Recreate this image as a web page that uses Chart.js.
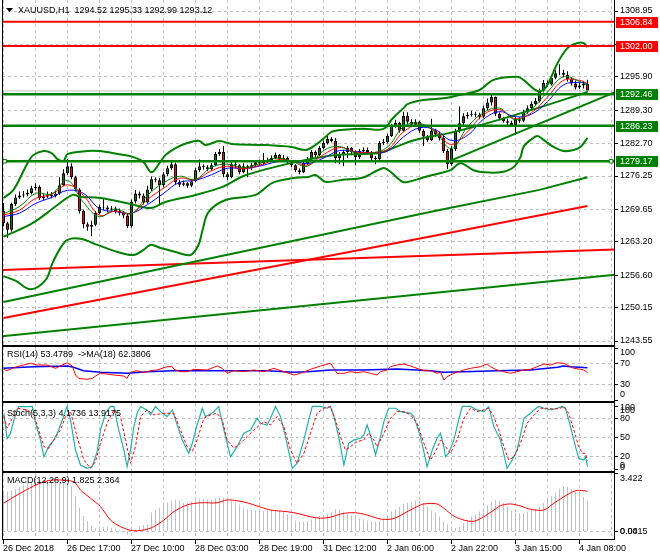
<!DOCTYPE html>
<html><head><meta charset="utf-8">
<script src="https://cdn.jsdelivr.net/npm/chart.js@4/dist/chart.umd.min.js"></script>
<style>
html,body{margin:0;padding:0;background:#fff;}
#wrap{position:relative;width:660px;height:560px;overflow:hidden;background:#fff;}
canvas{position:absolute;left:0;top:0;}
</style></head><body>
<div id="wrap">
<canvas id="cMain" width="660" height="560"></canvas>
<canvas id="cRsi" width="660" height="560"></canvas>
<canvas id="cSto" width="660" height="560"></canvas>
<canvas id="cMacd" width="660" height="560"></canvas>
</div>
<script>
// ================= DATA =================
const symbolTitle = 'XAUUSD,H1  1294.52 1295.33 1292.99 1293.12';
const rsiTitle = 'RSI(14) 53.4789  ->MA(18) 62.3806';
const stochTitle = 'Stoch(5,3,3) 4.1736 13.9175';
const macdTitle = 'MACD(12,26,9) 1.825 2.364';

const timeLabels = ['26 Dec 2018','26 Dec 17:00','27 Dec 10:00','28 Dec 03:00','28 Dec 19:00','31 Dec 12:00','2 Jan 06:00','2 Jan 22:00','3 Jan 15:00','4 Jan 08:00'];
const timeLabelBars = [0,16,32,48,64,80,96,112,128,144];
const priceTicks = [1308.95,1302.35,1295.90,1289.30,1282.70,1276.25,1269.65,1263.20,1256.60,1250.15,1243.55];

const opens = [1269.3,1266.9,1265.6,1270.7,1272.0,1272.4,1272.6,1272.9,1273.8,1274.1,
1271.9,1272.2,1272.6,1272.3,1272.8,1274.4,1276.8,1278.2,1276.0,1273.6,
1269.3,1266.7,1266.2,1266.6,1268.9,1270.1,1270.0,1269.6,1269.8,1269.3,
1269.0,1268.4,1266.3,1271.2,1272.8,1272.4,1271.0,1273.6,1275.6,1275.4,
1274.4,1276.6,1277.8,1278.6,1275.0,1274.5,1274.8,1274.3,1275.2,1277.4,
1278.2,1278.0,1277.6,1278.4,1280.6,1281.0,1276.6,1276.0,1278.6,1278.4,
1277.0,1278.2,1277.8,1278.4,1279.0,1278.8,1279.2,1279.4,1279.8,1280.4,
1279.6,1279.8,1279.0,1278.4,1277.4,1277.0,1278.8,1279.6,1281.0,1280.4,
1281.8,1282.8,1283.6,1283.2,1279.8,1280.5,1281.0,1281.8,1281.0,1280.0,
1281.2,1281.4,1281.0,1279.8,1279.6,1282.8,1283.0,1284.2,1286.2,1286.8,
1285.2,1288.2,1287.0,1286.4,1287.0,1285.2,1284.1,1283.4,1285.2,1284.5,
1283.8,1281.2,1278.6,1281.6,1285.1,1286.7,1288.1,1288.4,1288.6,1288.4,
1288.0,1289.7,1290.8,1291.9,1288.6,1287.7,1287.1,1286.8,1286.3,1287.5,
1287.2,1289.0,1289.7,1290.5,1291.1,1293.1,1294.7,1294.4,1295.7,1296.6,
1296.7,1296.3,1295.4,1294.6,1293.8,1294.2,1294.52];
const highs = [1270.9,1267.2,1271.0,1272.6,1273.2,1273.3,1273.6,1274.3,1274.8,1274.4,
1272.8,1273.2,1273.1,1273.4,1276.0,1277.6,1279.6,1278.8,1276.3,1273.8,
1269.6,1267.1,1267.4,1269.3,1270.6,1271.9,1270.4,1270.3,1270.2,1269.8,
1269.3,1268.8,1271.6,1273.5,1273.2,1272.8,1274.3,1276.2,1276.0,1275.9,
1277.0,1278.3,1279.3,1278.9,1275.5,1275.3,1275.0,1275.6,1277.9,1279.5,
1278.6,1278.4,1278.9,1281.0,1281.6,1282.2,1277.0,1279.0,1279.2,1278.6,
1278.8,1278.5,1278.9,1279.4,1279.5,1280.8,1279.9,1280.3,1280.9,1280.6,
1280.4,1280.1,1279.3,1278.6,1277.8,1279.2,1280.0,1281.4,1281.3,1282.2,
1283.3,1284.2,1284.0,1283.8,1281.0,1281.4,1282.2,1282.0,1281.3,1281.6,
1281.9,1281.9,1281.2,1280.2,1283.2,1283.6,1284.6,1286.6,1287.4,1287.0,
1289.0,1288.9,1287.5,1287.5,1287.2,1285.5,1284.4,1287.6,1285.6,1285.0,
1284.2,1281.6,1282.2,1285.6,1290.0,1288.7,1288.9,1289.2,1289.0,1288.8,
1290.2,1291.6,1292.4,1292.0,1288.9,1288.0,1287.6,1287.2,1287.9,1287.9,
1289.4,1290.2,1291.0,1291.7,1293.6,1295.3,1295.2,1296.2,1297.2,1298.4,
1297.3,1297.0,1295.8,1295.2,1294.8,1295.1,1295.33];
const lows = [1266.3,1264.0,1265.2,1270.3,1271.7,1272.0,1272.2,1272.6,1273.4,1271.5,
1271.4,1271.9,1271.8,1272.0,1272.5,1274.2,1276.5,1275.6,1273.2,1268.8,
1265.9,1265.4,1264.3,1266.3,1268.6,1269.5,1269.0,1269.2,1268.8,1268.4,
1267.9,1265.9,1266.0,1270.8,1271.8,1270.6,1270.8,1273.3,1275.0,1270.4,
1274.0,1276.2,1277.5,1274.6,1274.0,1274.2,1273.9,1274.0,1275.0,1277.1,
1277.5,1277.2,1277.3,1278.2,1280.2,1276.0,1275.4,1275.8,1277.8,1276.6,
1276.8,1276.0,1277.4,1278.1,1278.3,1278.5,1278.9,1279.1,1279.6,1279.2,
1279.3,1278.6,1278.0,1277.0,1276.6,1276.8,1278.5,1279.4,1280.0,1280.2,
1281.5,1282.5,1282.9,1278.8,1278.6,1278.2,1279.8,1280.6,1278.4,1279.6,
1280.9,1280.6,1279.4,1278.6,1279.3,1282.4,1282.7,1284.0,1285.8,1284.8,
1285.0,1286.6,1286.0,1286.0,1284.8,1282.2,1283.0,1283.2,1284.0,1283.3,
1280.8,1277.6,1278.3,1281.2,1284.8,1286.2,1287.6,1288.0,1287.9,1287.5,
1287.7,1289.3,1290.2,1288.1,1287.3,1286.8,1286.3,1286.0,1284.5,1286.8,
1286.9,1288.6,1289.4,1290.2,1290.8,1292.8,1293.9,1294.2,1295.4,1296.2,
1295.8,1295.0,1294.2,1293.4,1293.5,1293.6,1292.99];
const closes = [1266.9,1265.6,1270.7,1272.0,1272.4,1272.6,1272.9,1273.8,1274.1,1271.9,
1272.2,1272.6,1272.3,1272.8,1274.4,1276.8,1278.2,1276.0,1273.6,1269.3,
1266.7,1266.2,1266.6,1268.9,1270.1,1270.0,1269.6,1269.8,1269.3,1269.0,
1268.4,1266.3,1271.2,1272.8,1272.4,1271.0,1273.6,1275.6,1275.4,1274.4,
1276.6,1277.8,1278.6,1275.0,1274.5,1274.8,1274.3,1275.2,1277.4,1278.2,
1278.0,1277.6,1278.4,1280.6,1281.0,1276.6,1276.0,1278.6,1278.4,1277.0,
1278.2,1277.8,1278.4,1279.0,1278.8,1279.2,1279.4,1279.8,1280.4,1279.6,
1279.8,1279.0,1278.4,1277.4,1277.0,1278.8,1279.6,1281.0,1280.4,1281.8,
1282.8,1283.6,1283.2,1279.8,1280.5,1281.0,1281.8,1281.0,1280.0,1281.2,
1281.4,1281.0,1279.8,1279.6,1282.8,1283.0,1284.2,1286.2,1286.8,1285.2,
1288.2,1287.0,1286.4,1287.0,1285.2,1284.1,1283.4,1285.2,1284.5,1283.8,
1281.2,1278.6,1281.6,1285.1,1286.7,1288.1,1288.4,1288.6,1288.4,1288.0,
1289.7,1290.8,1291.9,1288.6,1287.7,1287.1,1286.8,1286.3,1287.5,1287.2,
1289.0,1289.7,1290.5,1291.1,1293.1,1294.7,1294.4,1295.7,1296.6,1296.7,
1296.3,1295.4,1294.6,1293.8,1294.2,1294.52,1293.12];

// Bollinger bands (bar index, price)
const bbUpper = [[0,1271.9],[2.5,1273.5],[6,1278.8],[7.5,1280.4],[10,1281.2],[12,1280.8],[13.5,1279.6],[15,1279.2],[16,1280.6],[21,1281.2],[24,1281.2],[28.5,1280.6],[32.5,1280.0],[35,1279.0],[37,1277.0],[39,1278.8],[40.5,1280.4],[43,1281.8],[46,1282.8],[49,1283.2],[50.5,1282.4],[54,1283.2],[57,1282.6],[65,1282.4],[72,1282.0],[75.5,1281.4],[78,1282.4],[80.5,1284.0],[82,1285.0],[85,1285.4],[90,1285.6],[94,1285.4],[95.5,1285.8],[97,1287.4],[100,1289.7],[101,1290.5],[105,1291.3],[110.5,1291.7],[114,1292.3],[119,1293.3],[122.5,1295.3],[128.5,1295.9],[130,1295.3],[133.5,1293.1],[135.5,1293.7],[138.5,1298.6],[141,1301.6],[143.5,1302.6],[145,1302.6],[146,1301.8]];
const bbMiddle = [[0,1264.2],[7.25,1266.9],[13.5,1270.5],[17.25,1272.5],[19.25,1272.1],[24.25,1271.9],[31.75,1270.7],[36.75,1269.9],[40.5,1271.1],[48,1272.5],[54.75,1274.1],[60.5,1276.4],[73,1279.0],[83,1280.4],[93.75,1280.8],[98,1282.0],[102,1283.2],[106,1284.0],[110.5,1284.6],[116.75,1285.8],[126,1287.9],[134.25,1289.9],[146,1292.9]];
const bbLower = [[0,1256.4],[3,1255.5],[6.75,1253.8],[10.5,1255.6],[12.25,1259.0],[14.25,1262.0],[16,1263.6],[19.25,1263.8],[23.5,1262.6],[28.5,1261.2],[32.5,1260.6],[35,1261.6],[36.75,1262.6],[39.25,1262.0],[43,1261.2],[46.75,1260.6],[48.75,1262.6],[49.75,1265.5],[51.25,1269.1],[55.5,1271.5],[63,1272.5],[67.25,1274.9],[73,1275.9],[76.25,1276.05],[78,1276.45],[80.5,1275.1],[84.75,1275.5],[89.75,1275.9],[94.75,1277.8],[96.25,1277.4],[99.75,1275.1],[101.25,1275.1],[104.75,1275.9],[109.25,1276.85],[111.75,1277.4],[114.25,1278.8],[117.5,1277.4],[120,1277.0],[124.25,1277.0],[127.5,1278.0],[129.25,1280.0],[130,1282.0],[131.75,1283.4],[133.5,1284.2],[135,1283.4],[137.5,1282.0],[140,1281.2],[142.5,1281.4],[144.25,1282.0],[146,1283.8]];

// fast moving averages (thin lines)
const maGreen = [[0,1268.8],[4,1270.2],[8,1272.8],[12,1272.7],[16,1275.4],[20,1271.0],[24,1268.2],[28,1269.7],[32,1268.8],[36,1272.4],[40,1274.9],[44,1276.2],[48,1275.6],[52,1278.0],[56,1278.6],[60,1277.9],[64,1278.7],[68,1279.8],[72,1279.2],[76,1278.2],[80,1281.3],[84,1282.1],[88,1280.8],[92,1280.8],[96,1282.0],[100,1286.0],[104,1286.7],[108,1284.9],[112,1281.7],[116,1286.0],[120,1288.8],[124,1289.7],[128,1287.4],[132,1289.5],[136,1292.9],[140,1295.9],[144,1295.0],[146,1294.2]];
const maRed = [[0,1268.5],[4,1269.5],[8,1271.8],[12,1272.6],[16,1274.5],[20,1272.4],[24,1268.5],[28,1269.3],[32,1268.8],[36,1271.6],[40,1273.8],[44,1275.8],[48,1275.5],[52,1277.3],[56,1278.2],[60,1277.7],[64,1278.4],[68,1279.4],[72,1279.3],[76,1278.4],[80,1280.5],[84,1281.9],[88,1281.0],[92,1280.9],[96,1281.5],[100,1285.0],[104,1286.4],[108,1285.1],[112,1282.5],[116,1285.0],[120,1288.4],[124,1289.4],[128,1287.6],[132,1288.8],[136,1291.9],[140,1295.2],[144,1295.2],[146,1294.6]];
const maBlue = [[0,1268.2],[4,1268.9],[8,1270.8],[12,1272.0],[16,1273.4],[20,1272.8],[24,1269.8],[28,1269.2],[32,1268.9],[36,1270.6],[40,1272.8],[44,1275.0],[48,1275.4],[52,1276.5],[56,1277.8],[60,1277.7],[64,1278.2],[68,1279.0],[72,1279.3],[76,1278.7],[80,1279.8],[84,1281.3],[88,1281.1],[92,1280.9],[96,1281.2],[100,1284.0],[104,1285.8],[108,1285.4],[112,1283.3],[116,1284.3],[120,1287.5],[124,1289.0],[128,1288.0],[132,1288.5],[136,1291.0],[140,1294.3],[144,1294.8],[146,1294.5]];

// long moving averages / lines
const longGreen1 = [[0,1251.3],[109,1269.5],[134,1273.5],[146,1276.0]];
const longRed1 = [[0,1248.1],[109,1264.6],[146,1270.3]];
const longRed2 = [[-0.375,1257.6],[152.875,1261.7]];
const longGreen2 = [[-0.375,1244.5],[152.875,1256.7]];
const trendLine = [[110.9,1279.0],[152.875,1292.85]];
const levelsRed = [1306.84,1302.00];
const levelsGreen = [1292.46,1286.23,1279.17];
const bidPrice = 1293.12;

// RSI(14) and its MA(18)
const rsiLine = [[0,59.5],[0.9,57],[2.2,61.4],[3.4,64.6],[5.1,67.8],[6.75,71],[8.4,67.8],[10.9,67.8],[13,61.4],[14.25,65.9],[15.9,72.1],[17.2,65.9],[18,48.8],[18.8,42.5],[20.9,40.6],[22.2,42.5],[23.4,48.8],[24.25,52],[25.9,50.7],[27.6,48.8],[30.1,46.9],[30.9,42.5],[31.3,48.8],[32.2,55.1],[33.4,57],[35.1,53.2],[36.75,57],[38.4,58.3],[40.9,64.6],[42.2,64.6],[42.6,59.6],[44.25,55.1],[45.9,55.1],[47.6,59.6],[50.9,58.3],[53.4,65.9],[54.7,61.4],[55.9,52],[57.6,57],[60.1,55.1],[62.6,58.3],[65.1,55.1],[67.6,61.4],[70.1,55.1],[72.6,48.8],[74.25,52],[76.75,59.6],[79.25,65.9],[81.75,71],[82.6,61.4],[83.4,52],[85.1,52],[86.75,55.1],[88.4,53.2],[90.1,55.1],[91.75,52],[93.4,48.8],[94.25,55.1],[95.9,58.3],[96.75,64.6],[98.4,67.8],[100.1,69.7],[101.75,65.9],[103.4,61.4],[105.1,57],[106.75,57],[108.4,52],[109.25,55.1],[110.1,39.3],[110.9,45.6],[112.6,52],[115.1,58.3],[116.75,61.4],[119.25,64.6],[120.9,69.7],[121.75,64.6],[123.4,58.3],[125.1,55.1],[126.75,52],[128.4,55.1],[130.1,58.3],[131.75,59.6],[133.4,64.6],[135.1,69.7],[136.75,67.8],[138.4,72.1],[140.1,71],[140.9,67.8],[142.6,61.4],[144.25,59.6],[145.1,58.3],[146,53.5]];
const rsiMa = [[0,61.4],[7.5,64.6],[16,65.9],[17.5,63.4],[20,57],[24.25,53.9],[31,52],[36,55.1],[42.5,57],[49.25,57],[57.5,57],[66,57],[72.5,53.9],[76,55.1],[81.75,58.3],[90,58.3],[98.5,60.2],[106.75,57],[110,53.9],[115,55.1],[123.5,57],[131.75,58.3],[138.5,63.4],[140,65.9],[141.75,64.6],[146,62.4]];

// Stochastic %K and %D
const stochK = [[0.1,89],[0.9,49],[1.75,57],[2.6,78.5],[3.8,99.7],[5.9,99.7],[7.2,100],[8,73],[9.25,46.7],[10.1,20],[11.3,36],[12.6,46.7],[13.8,62.6],[14.7,78.5],[15.9,100],[16.75,78.5],[18,30.7],[19.25,6.8],[20.9,1.6],[22.2,4.1],[23.4,28],[24.25,62.6],[25.5,89],[26.75,100],[27.6,100],[28.8,62.6],[30.1,30.7],[30.9,4.1],[31.75,30.7],[32.6,67.8],[33.4,89],[34.25,99.7],[35.9,94.4],[36.75,86.5],[38,99.7],[39.25,91.7],[40.9,83.8],[42.2,94.4],[43,78.5],[44.7,46.7],[46.3,25.5],[47.2,41.4],[48.4,70.5],[49.7,97.1],[50.5,83.8],[51.3,86.5],[52.6,91.7],[53.8,100],[55.1,62.6],[56.75,20],[58.4,36],[60.1,57.3],[61.75,62.6],[63.4,81.2],[64.25,73.2],[65.9,70.5],[66.75,81.2],[68,100],[69.25,83.8],[70.5,51.9],[72.2,1.6],[73.4,9.6],[75.1,46.7],[76.3,78.5],[77.2,100],[79.25,100],[80.9,97.1],[81.75,100],[82.6,83.8],[83.8,51.9],[85.1,6.8],[86.3,41.4],[87.6,46.7],[89.25,49.4],[90.1,54.6],[90.9,70.5],[91.75,54.6],[93,22.8],[94.25,51.9],[95.1,75.8],[96.3,97.1],[98,97.1],[99.25,91.7],[101.75,89],[102.6,83.8],[104.25,51.9],[105.9,4.1],[107.2,30.7],[108.4,49.4],[109.25,57.3],[110.1,36],[110.5,20],[111.3,25.5],[112.6,46.7],[113.8,78.5],[114.7,100],[116.75,100],[118.4,94.4],[120.1,91.7],[121.3,99.7],[122.6,67.8],[124.25,46.7],[125.9,1.6],[127.2,14.8],[128.4,30.7],[129.7,67.8],[130.1,81.2],[131.75,89],[132.6,94.4],[133.8,100],[135.1,97.1],[136.75,94.4],[138.4,97.1],[139.7,100],[140.5,97.1],[141.75,67.8],[143,36],[143.8,17.5],[145.1,14.8],[145.5,20],[146,4.2]];
const stochD = [[0.1,83.8],[0.9,65.3],[2.2,81.2],[3.4,97.1],[5.9,94.4],[7.6,86.5],[8.8,62.6],[10.1,36],[11.3,33.4],[12.6,46.7],[14.25,62.6],[15.5,83.8],[16.75,91.7],[18.4,51.9],[20.1,14.8],[21.75,1.6],[23,12.1],[24.25,41.4],[25.9,73.2],[27.6,94.4],[29.25,83.8],[30.5,46.7],[31.75,9.6],[33,36],[34.25,83.8],[35.9,94.4],[37.6,86.5],[40.1,89],[42.6,89],[44.25,62.6],[45.9,36],[47.2,28],[48.4,46.7],[50.1,81.2],[51.75,86.5],[53.4,89],[54.7,78.5],[55.9,46.7],[57.6,33.4],[59.25,41.4],[60.9,51.9],[62.6,62.6],[65.1,75.8],[66.75,70.5],[68.4,83.8],[70.1,67.8],[71.75,30.7],[73.4,9.6],[75.1,25.5],[76.75,57.3],[78.4,89],[80.1,97.1],[81.75,99.7],[83,78.5],[84.25,51.9],[85.5,30.7],[86.75,36],[88.4,44],[90.1,46.7],[91.3,57.3],[92.6,46.7],[93.4,36],[95.1,57.3],[96.75,81.2],[98.4,91.7],[100.1,91.7],[101.75,86.5],[103.4,73.2],[105.1,41.4],[106.75,14.8],[108,28],[109.25,46.7],[110.5,36],[111.75,25.5],[113.4,46.7],[115.1,81.2],[116.75,97.1],[118.4,91.7],[120.1,94.4],[121.3,97.1],[122.6,83.8],[123.8,62.6],[125.1,36],[126.3,14.8],[127.6,20],[129.25,41.4],[130.9,73.2],[132.6,86.5],[134.25,97.1],[135.9,97.1],[137.6,95.6],[139.25,97.1],[140.1,99.7],[141.3,89],[142.6,62.6],[143.8,36],[144.7,25.5],[145.5,25.5],[146,13.9]];

// MACD histogram (one value per bar) and signal line
const macdHist = [2.24,2.34,2.40,2.50,2.60,2.72,2.84,2.90,2.95,3.02,
3.04,3.04,2.92,2.84,2.84,2.82,2.78,2.66,2.10,1.40,
0.90,0.58,0.32,0.16,0.24,0.26,0.26,0.18,0.14,0.08,
-0.10,-0.24,0.00,0.10,0.32,0.36,0.40,1.10,1.28,1.38,
1.55,1.70,1.82,1.88,1.83,1.66,1.70,1.76,1.86,1.89,
1.89,1.87,1.86,1.95,2.05,2.00,1.89,1.78,1.66,1.57,
1.42,1.29,1.26,1.24,1.22,1.21,1.22,1.24,1.23,1.19,
1.15,1.00,0.82,0.62,0.55,0.55,0.60,0.68,0.80,0.90,
0.95,1.01,1.10,1.30,1.27,1.15,1.04,0.92,0.82,0.74,
0.70,0.62,0.55,0.55,0.58,0.65,0.95,1.18,1.30,1.45,
1.61,1.68,1.75,1.82,1.80,1.66,1.45,1.22,1.10,0.85,
0.55,0.38,0.24,0.18,0.25,0.45,0.68,0.88,1.00,1.16,
1.35,1.55,1.75,1.84,1.80,1.66,1.45,1.22,1.08,1.05,
1.05,1.15,1.26,1.32,1.45,1.65,1.85,2.08,2.30,2.52,
2.68,2.62,2.50,2.38,2.20,2.04,1.83];
const macdSignal = [[0,1.65],[3.4,2.14],[7.6,2.68],[10.1,2.93],[12.6,3.04],[17.6,2.93],[19.25,2.44],[21.75,1.95],[24.25,1.45],[26.75,0.65],[29.25,0.26],[32.2,0.02],[35.1,0.06],[37.6,0.26],[40.1,0.65],[42.6,1.15],[45.9,1.55],[49.25,1.68],[53.4,1.68],[55.9,1.85],[58.4,1.8],[60.9,1.68],[63.4,1.49],[66.75,1.25],[70.9,1.15],[73.4,1.05],[76.75,0.85],[79.25,0.76],[81.75,0.82],[84.25,1.01],[86.75,1.09],[89.25,1.05],[91.75,0.89],[94.25,0.71],[96.75,0.7],[98.4,0.82],[100.9,1.15],[103.4,1.45],[105.1,1.61],[108.4,1.61],[110.1,1.35],[112.6,0.89],[115.1,0.65],[117.6,0.58],[120.1,0.85],[122.6,1.25],[124.25,1.51],[126.75,1.61],[129.25,1.49],[131.75,1.29],[135.1,1.25],[137.6,1.65],[140.1,2.04],[143,2.4],[145.1,2.4],[146,2.36]];

// ================= RENDERING =================
const X_MIN = -0.375, X_MAX = 152.875;
const GREEN = '#008000', RED = '#ff0000', BLUE = '#0000ff', TEAL = '#20b2aa', GRID = '#c0c0c0';
const FONT = '9px "Liberation Sans", Arial, sans-serif';
const pts = a => a.map(([x, y]) => ({x, y}));
const hl = v => [{x: X_MIN, y: v}, {x: X_MAX, y: v}];
function lineDS(data, color, width, order, extra) {
  return Object.assign({type: 'line', data, borderColor: color, borderWidth: width, pointRadius: 0, fill: false, tension: 0, order}, extra || {});
}

const panels = {
  cMain: {hGrid: priceTicks, labels: priceTicks.map(v => ({v, t: v.toFixed(2), dy: 0})), title: symbolTitle, tx: 18, ty: 10.5, tri: true,
          boxes: levelsRed.map(v => ({v, c: RED})).concat(levelsGreen.map(v => ({v, c: GREEN})))},
  cRsi: {hGrid: [70, 30], labels: [{v: 100, t: '100', dy: 5}, {v: 70, t: '70', dy: 0}, {v: 30, t: '30', dy: 0}, {v: 0, t: '0', dy: -6}], title: rsiTitle, tx: 7, ty: 355},
  cSto: {hGrid: [80, 50, 20], labels: [{v: 100, t: '100', dy: 1}, {v: 100, t: '100', dy: 4}, {v: 80, t: '80', dy: 0}, {v: 50, t: '50', dy: 0}, {v: 20, t: '20', dy: 0}, {v: 0, t: '0', dy: -3.5}, {v: 0, t: '0', dy: -2}], title: stochTitle, tx: 7, ty: 413.5},
  cMacd: {hGrid: [0], labels: [{v: 3.422, t: '3.422', dy: 4.8}, {v: 0, t: '0.00', dy: 0.5}, {v: 0, t: '0.0415', dy: 0.5}], title: macdTitle, tx: 7, ty: 480.5, last: true}
};

const decor = {
  id: 'decor',
  beforeDatasetsDraw(chart) {
    const p = panels[chart.canvas.id];
    const {ctx, chartArea: a} = chart, xs = chart.scales.x, ys = chart.scales.y;
    ctx.save();
    ctx.beginPath(); ctx.rect(a.left, a.top, a.right - a.left, a.bottom - a.top); ctx.clip();
    ctx.strokeStyle = GRID; ctx.lineWidth = 1; ctx.setLineDash([3, 3]);
    ctx.beginPath();
    for (let i = 0; i <= X_MAX; i += 8) { const px = xs.getPixelForValue(i); ctx.moveTo(px, a.top); ctx.lineTo(px, a.bottom); }
    p.hGrid.forEach(v => { const py = Math.floor(ys.getPixelForValue(v)) + 0.5; ctx.moveTo(a.left, py); ctx.lineTo(a.right, py); });
    ctx.stroke();
    ctx.restore();
  },
  afterDraw(chart) {
    const p = panels[chart.canvas.id];
    const {ctx} = chart, xs = chart.scales.x, ys = chart.scales.y;
    ctx.save();
    ctx.font = FONT; ctx.textBaseline = 'middle'; ctx.textAlign = 'left';
    ctx.fillStyle = '#000';
    if (p.tri) { ctx.beginPath(); ctx.moveTo(6, 8); ctx.lineTo(13, 8); ctx.lineTo(9.5, 12); ctx.closePath(); ctx.fill(); }
    ctx.fillText(p.title, p.tx, p.ty);
    p.labels.forEach(l => {
      const py = ys.getPixelForValue(l.v);
      ctx.fillStyle = '#000';
      ctx.fillRect(615, Math.floor(py), 3, 1);
      ctx.fillText(l.t, 620, py + l.dy);
    });
    (p.boxes || []).forEach(b => {
      const py = Math.round(ys.getPixelForValue(b.v));
      ctx.fillStyle = b.c; ctx.fillRect(616, py - 5, 42, 11);
      ctx.fillStyle = '#fff'; ctx.fillText(b.v.toFixed(2), 620, py + 0.5);
    });
    if (p.last) {
      ctx.fillStyle = '#000';
      ctx.fillRect(2, 345, 613, 2);
      ctx.fillRect(2, 401, 613, 2);
      ctx.fillRect(2, 471, 613, 2);
      ctx.fillRect(2, 539, 613, 1);
      ctx.fillRect(2, 0, 1, 540);
      ctx.fillRect(614, 0, 1, 540);
      timeLabels.forEach((t, k) => {
        const px = Math.floor(xs.getPixelForValue(timeLabelBars[k]));
        ctx.fillRect(px, 540, 1, 4);
        ctx.fillText(t, px, 548.5);
      });
    }
    ctx.restore();
  }
};

function baseOptions(padTop, padBottom, yMin, yMax) {
  return {
    responsive: false, animation: false, events: [], devicePixelRatio: 1,
    layout: {padding: {left: 2, right: 45, top: padTop, bottom: padBottom}},
    plugins: {legend: {display: false}, tooltip: {enabled: false}},
    scales: {
      x: {type: 'linear', min: X_MIN, max: X_MAX, display: false, offset: false},
      y: {type: 'linear', min: yMin, max: yMax, display: false}
    }
  };
}

const bodyColors = closes.map((c, i) => c >= opens[i] ? GREEN : RED);
const mainDatasets = [
  {type: 'bar', data: lows.map((l, i) => ({x: i, y: [l, highs[i]]})), backgroundColor: '#000', borderWidth: 0, barThickness: 1, grouped: false, inflateAmount: 0, order: 20},
  {type: 'bar', data: opens.map((o, i) => ({x: i, y: [o, closes[i]]})), backgroundColor: bodyColors, borderColor: '#000', borderWidth: 1, borderSkipped: false, barThickness: 3, grouped: false, inflateAmount: 0, order: 19},
  lineDS(hl(bidPrice), '#c0c0c0', 1, 15),
  lineDS(pts(longGreen1), GREEN, 2, 10),
  lineDS(pts(longRed1), RED, 2, 10),
  lineDS(pts(longRed2), RED, 2, 10),
  lineDS(pts(longGreen2), GREEN, 2, 10),
  lineDS(pts(bbUpper), GREEN, 2, 8, {tension: 0.35}),
  lineDS(pts(bbMiddle), GREEN, 2, 8, {tension: 0.35}),
  lineDS(pts(bbLower), GREEN, 2, 8, {tension: 0.35}),
  lineDS(pts(maGreen), GREEN, 1, 6, {tension: 0.4}),
  lineDS(pts(maRed), RED, 1, 6, {tension: 0.4}),
  lineDS(pts(maBlue), BLUE, 1, 6, {tension: 0.4}),
  lineDS(pts(trendLine), GREEN, 2, 5),
  lineDS(hl(levelsRed[0]), RED, 2, 4),
  lineDS(hl(levelsRed[1]), RED, 2, 4),
  lineDS(hl(levelsGreen[0]), GREEN, 2.5, 4),
  lineDS(hl(levelsGreen[1]), GREEN, 2.5, 4),
  lineDS([{x: X_MIN, y: levelsGreen[2]}, {x: 0.3, y: levelsGreen[2]}, {x: 151.9, y: levelsGreen[2]}, {x: X_MAX, y: levelsGreen[2]}], GREEN, 2.5, 4,
    {pointRadius: [0, 2.5, 2.5, 0], pointStyle: 'rect', pointBackgroundColor: '#fff', pointBorderColor: GREEN, pointBorderWidth: 1})
];
new Chart(document.getElementById('cMain'), {type: 'line', data: {datasets: mainDatasets}, options: baseOptions(0, 215, 1242.76, 1311.13), plugins: [decor]});

new Chart(document.getElementById('cRsi'), {type: 'line', data: {datasets: [
  lineDS(pts(rsiMa), BLUE, 1.5, 2),
  lineDS(pts(rsiLine), RED, 1, 1)
]}, options: baseOptions(347, 159, -0.47, 101.9), plugins: [decor]});

new Chart(document.getElementById('cSto'), {type: 'line', data: {datasets: [
  lineDS(pts(stochK), TEAL, 1.2, 2),
  lineDS(pts(stochD), RED, 1, 1, {borderDash: [3, 2]})
]}, options: baseOptions(403, 89, -2.7, 105.41), plugins: [decor]});

new Chart(document.getElementById('cMacd'), {type: 'line', data: {datasets: [
  {type: 'bar', data: macdHist.map((v, i) => ({x: i, y: v})), backgroundColor: '#c0c0c0', borderWidth: 0, barThickness: 1, grouped: false, inflateAmount: 0, order: 5},
  lineDS(pts(macdSignal), RED, 1, 1, {tension: 0.3})
]}, options: baseOptions(473, 21, -0.476, 3.452), plugins: [decor]});
</script>
</body></html>
